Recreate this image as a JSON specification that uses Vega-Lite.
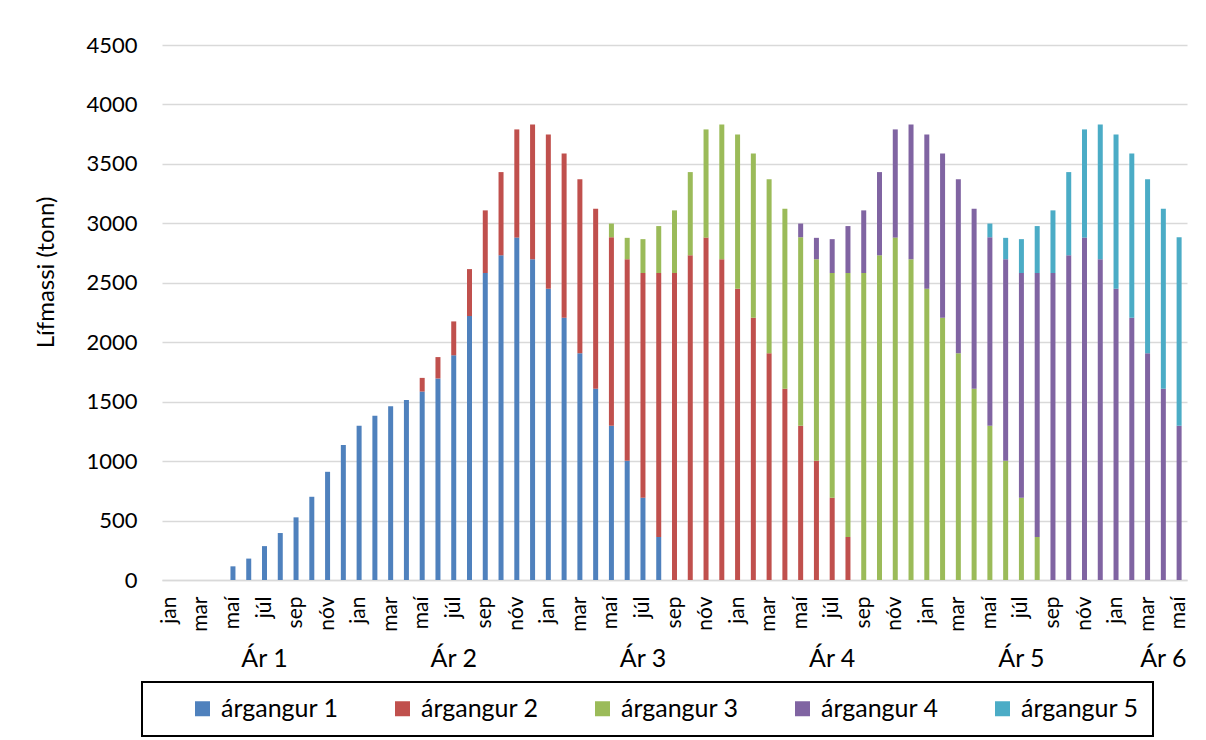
{
  "$schema": "https://vega.github.io/schema/vega-lite/v6.json",
  "width": 1025,
  "height": 535,
  "autosize": {"type": "none"},
  "padding": {"left": 162, "top": 45, "right": 19, "bottom": 160},
  "background": "white",
  "config": {
    "view": {"stroke": null},
    "font": "Lato",
    "axis": {"labelFont": "Lato", "titleFont": "Lato", "labelColor": "#000000", "titleColor": "#000000"}
  },
  "data": {"values": [
    {"t":4,"g":"árgangur 1","v":115},{"t":5,"g":"árgangur 1","v":180},{"t":6,"g":"árgangur 1","v":285},{"t":7,"g":"árgangur 1","v":395},{"t":8,"g":"árgangur 1","v":527},{"t":9,"g":"árgangur 1","v":700},{"t":10,"g":"árgangur 1","v":910},{"t":11,"g":"árgangur 1","v":1135},{"t":12,"g":"árgangur 1","v":1298},{"t":13,"g":"árgangur 1","v":1382},{"t":14,"g":"árgangur 1","v":1462},{"t":15,"g":"árgangur 1","v":1515},{"t":16,"g":"árgangur 1","v":1585},{"t":17,"g":"árgangur 1","v":1695},{"t":18,"g":"árgangur 1","v":1890},{"t":19,"g":"árgangur 1","v":2220},{"t":20,"g":"árgangur 1","v":2582},{"t":21,"g":"árgangur 1","v":2731},{"t":22,"g":"árgangur 1","v":2880},{"t":23,"g":"árgangur 1","v":2697},{"t":24,"g":"árgangur 1","v":2450},{"t":25,"g":"árgangur 1","v":2205},{"t":26,"g":"árgangur 1","v":1908},{"t":27,"g":"árgangur 1","v":1608},{"t":28,"g":"árgangur 1","v":1298},{"t":29,"g":"árgangur 1","v":1003},{"t":30,"g":"árgangur 1","v":692},{"t":31,"g":"árgangur 1","v":362},
    {"t":16,"g":"árgangur 2","v":115},{"t":17,"g":"árgangur 2","v":180},{"t":18,"g":"árgangur 2","v":285},{"t":19,"g":"árgangur 2","v":395},{"t":20,"g":"árgangur 2","v":527},{"t":21,"g":"árgangur 2","v":700},{"t":22,"g":"árgangur 2","v":910},{"t":23,"g":"árgangur 2","v":1135},{"t":24,"g":"árgangur 2","v":1298},{"t":25,"g":"árgangur 2","v":1382},{"t":26,"g":"árgangur 2","v":1462},{"t":27,"g":"árgangur 2","v":1515},{"t":28,"g":"árgangur 2","v":1585},{"t":29,"g":"árgangur 2","v":1695},{"t":30,"g":"árgangur 2","v":1890},{"t":31,"g":"árgangur 2","v":2220},{"t":32,"g":"árgangur 2","v":2582},{"t":33,"g":"árgangur 2","v":2731},{"t":34,"g":"árgangur 2","v":2880},{"t":35,"g":"árgangur 2","v":2697},{"t":36,"g":"árgangur 2","v":2450},{"t":37,"g":"árgangur 2","v":2205},{"t":38,"g":"árgangur 2","v":1908},{"t":39,"g":"árgangur 2","v":1608},{"t":40,"g":"árgangur 2","v":1298},{"t":41,"g":"árgangur 2","v":1003},{"t":42,"g":"árgangur 2","v":692},{"t":43,"g":"árgangur 2","v":362},
    {"t":28,"g":"árgangur 3","v":115},{"t":29,"g":"árgangur 3","v":180},{"t":30,"g":"árgangur 3","v":285},{"t":31,"g":"árgangur 3","v":395},{"t":32,"g":"árgangur 3","v":527},{"t":33,"g":"árgangur 3","v":700},{"t":34,"g":"árgangur 3","v":910},{"t":35,"g":"árgangur 3","v":1135},{"t":36,"g":"árgangur 3","v":1298},{"t":37,"g":"árgangur 3","v":1382},{"t":38,"g":"árgangur 3","v":1462},{"t":39,"g":"árgangur 3","v":1515},{"t":40,"g":"árgangur 3","v":1585},{"t":41,"g":"árgangur 3","v":1695},{"t":42,"g":"árgangur 3","v":1890},{"t":43,"g":"árgangur 3","v":2220},{"t":44,"g":"árgangur 3","v":2582},{"t":45,"g":"árgangur 3","v":2731},{"t":46,"g":"árgangur 3","v":2880},{"t":47,"g":"árgangur 3","v":2697},{"t":48,"g":"árgangur 3","v":2450},{"t":49,"g":"árgangur 3","v":2205},{"t":50,"g":"árgangur 3","v":1908},{"t":51,"g":"árgangur 3","v":1608},{"t":52,"g":"árgangur 3","v":1298},{"t":53,"g":"árgangur 3","v":1003},{"t":54,"g":"árgangur 3","v":692},{"t":55,"g":"árgangur 3","v":362},
    {"t":40,"g":"árgangur 4","v":115},{"t":41,"g":"árgangur 4","v":180},{"t":42,"g":"árgangur 4","v":285},{"t":43,"g":"árgangur 4","v":395},{"t":44,"g":"árgangur 4","v":527},{"t":45,"g":"árgangur 4","v":700},{"t":46,"g":"árgangur 4","v":910},{"t":47,"g":"árgangur 4","v":1135},{"t":48,"g":"árgangur 4","v":1298},{"t":49,"g":"árgangur 4","v":1382},{"t":50,"g":"árgangur 4","v":1462},{"t":51,"g":"árgangur 4","v":1515},{"t":52,"g":"árgangur 4","v":1585},{"t":53,"g":"árgangur 4","v":1695},{"t":54,"g":"árgangur 4","v":1890},{"t":55,"g":"árgangur 4","v":2220},{"t":56,"g":"árgangur 4","v":2582},{"t":57,"g":"árgangur 4","v":2731},{"t":58,"g":"árgangur 4","v":2880},{"t":59,"g":"árgangur 4","v":2697},{"t":60,"g":"árgangur 4","v":2450},{"t":61,"g":"árgangur 4","v":2205},{"t":62,"g":"árgangur 4","v":1908},{"t":63,"g":"árgangur 4","v":1608},{"t":64,"g":"árgangur 4","v":1298},
    {"t":52,"g":"árgangur 5","v":115},{"t":53,"g":"árgangur 5","v":180},{"t":54,"g":"árgangur 5","v":285},{"t":55,"g":"árgangur 5","v":395},{"t":56,"g":"árgangur 5","v":527},{"t":57,"g":"árgangur 5","v":700},{"t":58,"g":"árgangur 5","v":910},{"t":59,"g":"árgangur 5","v":1135},{"t":60,"g":"árgangur 5","v":1298},{"t":61,"g":"árgangur 5","v":1382},{"t":62,"g":"árgangur 5","v":1462},{"t":63,"g":"árgangur 5","v":1515},{"t":64,"g":"árgangur 5","v":1585}
  ]},
  "layer": [
    {
      "mark": {"type": "bar", "size": 5},
      "encoding": {
        "x": {
          "field": "t", "type": "ordinal",
          "scale": {"domain": [0,1,2,3,4,5,6,7,8,9,10,11,12,13,14,15,16,17,18,19,20,21,22,23,24,25,26,27,28,29,30,31,32,33,34,35,36,37,38,39,40,41,42,43,44,45,46,47,48,49,50,51,52,53,54,55,56,57,58,59,60,61,62,63,64], "paddingInner": 0, "paddingOuter": 0},
          "axis": {
            "title": null,
            "values": [0,2,4,6,8,10,12,14,16,18,20,22,24,26,28,30,32,34,36,38,40,42,44,46,48,50,52,54,56,58,60,62,64],
            "labelExpr": "['jan','feb','mar','apr','maí','jún','júl','ágú','sep','okt','nóv','des'][datum.value % 12]",
            "labelAngle": 270, "labelAlign": "right", "labelBaseline": "middle",
            "labelFontSize": 21, "labelPadding": 16,
            "ticks": false, "tickSize": 0,
            "domainColor": "#d9d9d9", "domainWidth": 1.5,
            "grid": false
          }
        },
        "y": {
          "field": "v", "type": "quantitative", "stack": "zero",
          "scale": {"domain": [0, 4500], "nice": false},
          "axis": {
            "title": "Lífmassi (tonn)", "titleFontSize": 24, "titleFontWeight": "normal",
            "titleX": -116, "titleY": 227, "titleAngle": 270, "titleBaseline": "middle", "titleAlign": "center",
            "values": [0,500,1000,1500,2000,2500,3000,3500,4000,4500], "format": "d",
            "labelFontSize": 22, "labelPadding": 25,
            "ticks": false, "tickSize": 0, "domain": false,
            "gridColor": "#d9d9d9", "gridWidth": 1.5
          }
        },
        "color": {
          "field": "g", "type": "nominal",
          "scale": {"domain": ["árgangur 1","árgangur 2","árgangur 3","árgangur 4","árgangur 5"], "range": ["#4F81BD","#C0504D","#9BBB59","#8064A2","#4BACC6"]},
          "legend": {
            "title": "\u00a0", "titleOrient": "left", "titlePadding": 34, "titleFontSize": 25,
            "orient": "none", "legendX": -20, "legendY": 637, "direction": "horizontal",
            "strokeColor": "#000000", "fillColor": "white", "padding": 14,
            "symbolType": "square", "symbolSize": 225, "symbolStrokeWidth": 0, "labelOffset": 6,
            "labelFont": "Lato", "labelFontSize": 25, "labelColor": "#000000", "labelLimit": 300,
            "labelExpr": "datum.value == 'árgangur 5' ? datum.label + '\u2003\u2003' : datum.label",
            "columnPadding": 51,
            "encode": {"legend": {"update": {"strokeWidth": {"value": 2}}}}
          }
        },
        "order": {"field": "g", "sort": "ascending"}
      }
    },
    {
      "mark": {"type": "bar", "opacity": 0},
      "encoding": {
        "x": {
          "field": "t", "type": "ordinal",
          "axis": {
            "title": null, "orient": "bottom",
            "values": [6,18,30,42,54,63],
            "labelExpr": "'Ár ' + (floor(datum.value / 12) + 1)",
            "labelAngle": 0, "labelAlign": "center", "labelBaseline": "alphabetic",
            "labelFontSize": 25, "labelPadding": 86,
            "ticks": false, "tickSize": 0, "domain": false, "grid": false
          }
        }
      }
    }
  ],
  "resolve": {"axis": {"x": "independent"}}
}
